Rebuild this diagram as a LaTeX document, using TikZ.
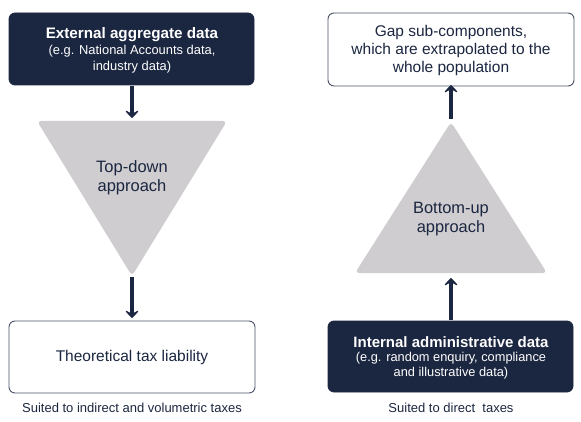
\documentclass[tikz,border=0pt]{standalone}
\usepackage{fontspec}
\setmainfont{Liberation Sans}
\usetikzlibrary{arrows.meta}
\definecolor{navy}{HTML}{1B2640}
\definecolor{trigray}{HTML}{CFCDD0}
\definecolor{edge}{HTML}{4A5268}
\begin{document}
\begin{tikzpicture}[x=1pt,y=-1pt,
  darkbox/.style={draw=navy,fill=navy,rounded corners=6pt,line width=0.8pt},
  lightbox/.style={draw=edge,fill=white,rounded corners=6pt,line width=0.9pt},
  trishape/.style={fill=trigray,rounded corners=4pt},
  txt/.style={text=navy,align=center,inner sep=0pt},
  flow/.style={draw=navy,line width=4pt,-{Stealth[length=9pt,width=17pt,inset=4.5pt,round]}},
  captext/.style={text=navy,font=\fontsize{13}{15}\selectfont,inner sep=0pt}]
\useasboundingbox (0,0) rectangle (581,422);
% left column
\path[darkbox] (9,13) rectangle (254,85);
\node[txt,text=white,font=\fontsize{15.2}{17}\bfseries\selectfont] (ext) at (132,35) {External aggregate data};
\node[txt,text=white,font=\fontsize{12.9}{16}\selectfont,anchor=north] (extsub) at (132,45) {(e.g. National Accounts data,\\industry data)};
\coordinate (extb) at (132,86);
\path[trishape] (37,121) -- (227,121) -- (132,276) -- cycle;
\coordinate (tdtop) at (132,118);
\coordinate (tdbot) at (132,277);
\node[txt,font=\fontsize{16.5}{19}\selectfont] (td) at (132,178) {Top-down\\approach};
\path[lightbox] (9,321) rectangle (255,393);
\node[txt,font=\fontsize{15.5}{17}\selectfont] (theo) at (132,357) {Theoretical tax liability};
\coordinate (theotop) at (132,318);
\node[captext] (capl) at (132,408) {Suited to indirect and volumetric taxes};
\draw[flow] (extb) -- (tdtop);
\draw[flow] (tdbot) -- (theotop);
% right column
\path[lightbox] (328,13) rectangle (574,86);
\node[txt,font=\fontsize{15.5}{18}\selectfont] (gap) at (451,50) {Gap sub-components,\\which are extrapolated to the\\whole population};
\coordinate (gapb) at (451,85);
\path[trishape] (451,122) -- (547,273) -- (355,273) -- cycle;
\coordinate (butop) at (451,119);
\coordinate (bubot) at (451,278);
\node[txt,font=\fontsize{16.4}{19}\selectfont] (bu) at (451,219) {Bottom-up\\approach};
\path[darkbox] (328,321) rectangle (573,392);
\node[txt,text=white,font=\fontsize{15}{17}\bfseries\selectfont] (int) at (451,342) {Internal administrative data};
\node[txt,text=white,font=\fontsize{12.8}{15.5}\selectfont,anchor=north] (intsub) at (451,352) {(e.g. random enquiry, compliance\\and illustrative data)};
\coordinate (intt) at (451,320);
\node[captext] (capr) at (451,408) {Suited to direct\ \ taxes};
\draw[flow] (intt) -- (bubot);
\draw[flow] (butop) -- (gapb);
\end{tikzpicture}
\end{document}
